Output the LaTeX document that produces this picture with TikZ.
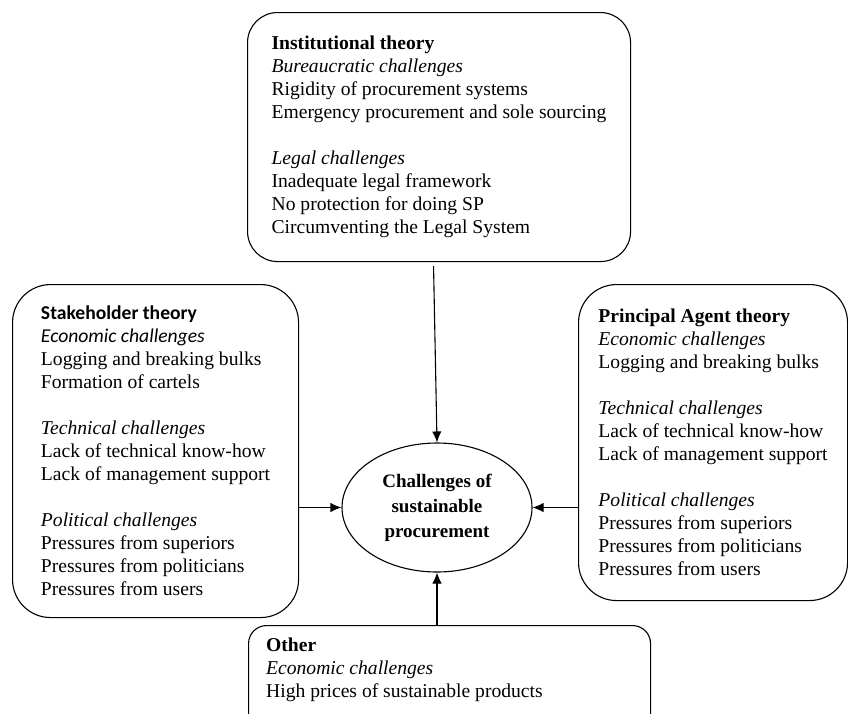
\documentclass[tikz,border=0pt]{standalone}
\usepackage{fontspec}
\setmainfont{Liberation Serif}
\newfontfamily\calibri{Carlito}
\usetikzlibrary{arrows.meta}
\usetikzlibrary{shapes.geometric}
\usetikzlibrary{positioning}
\tikzset{
theorybox/.style = {draw, line width=1.1pt, rounded corners=#1, align=left,
                    inner sep=0pt, font=\fontsize{19.6}{23}\selectfont},
theorybox/.default = 38pt,
coreellipse/.style = {draw, ellipse, line width=1.1pt, inner sep=0pt, align=center,
                      minimum width=190pt, minimum height=129pt,
                      font=\fontsize{19}{25}\selectfont\bfseries},
feed/.style = {line width=1.1pt, -{Latex[length=11pt,width=9.5pt]}},
}

\begin{document}
\begin{tikzpicture}[x=1pt,y=-1pt]
	\useasboundingbox (0,0) rectangle (848,713);
		% the four groups of theory
		\node[theorybox=30pt, anchor=north west, minimum width=383pt, minimum height=249pt] (inst) at (247,12)
			{\textbf{Institutional theory}\\
			 \textit{Bureaucratic challenges}\\
			 Rigidity of procurement systems\\
			 Emergency procurement and sole sourcing\\[23pt]
			 \textit{Legal challenges}\\
			 Inadequate legal framework\\
			 No protection for doing SP\\
			 Circumventing the Legal System};
		\node[theorybox, anchor=north west, minimum width=286pt, minimum height=333pt] (stake) at (12,284)
			{{\calibri\bfseries Stakeholder theory}\\
			 {\calibri\itshape Economic challenges}\\
			 Logging and breaking bulks\\
			 Formation of cartels\\[23pt]
			 \textit{Technical challenges}\\
			 Lack of technical know-how\\
			 Lack of management support\\[23pt]
			 \textit{Political challenges}\\
			 Pressures from superiors\\
			 Pressures from politicians\\
			 Pressures from users};
		\node[theorybox, anchor=north west, minimum width=269pt, minimum height=316pt] (agent) at (578,284)
			{\textbf{Principal Agent theory}\\
			 \textit{Economic challenges}\\
			 Logging and breaking bulks\\[23pt]
			 \textit{Technical challenges}\\
			 Lack of technical know-how\\
			 Lack of management support\\[23pt]
			 \textit{Political challenges}\\
			 Pressures from superiors\\
			 Pressures from politicians\\
			 Pressures from users};
		\node[theorybox=18pt, anchor=north west, minimum width=402pt, minimum height=110pt] (other) at (248,625) {};
		\node[anchor=north west, inner sep=0pt, align=left, font=\fontsize{19.6}{23}\selectfont] (otherText) at (266,638)
			{\textbf{Other}\\
			 \textit{Economic challenges}\\
			 High prices of sustainable products};
		% the centre
		\node[coreellipse] (core) at (437,507.5) {Challenges of\\ sustainable\\ procurement};
		\draw[feed] ([xshift=-5.5pt,yshift=-4pt]inst.south) -- (core.north);
		\draw[feed] (stake.east |- core.west) -- (core.west);
		\draw[feed] (agent.west |- core.east) -- (core.east);
		\draw[feed] (other.north -| core.south) -- (core.south);
\end{tikzpicture}
\end{document}
